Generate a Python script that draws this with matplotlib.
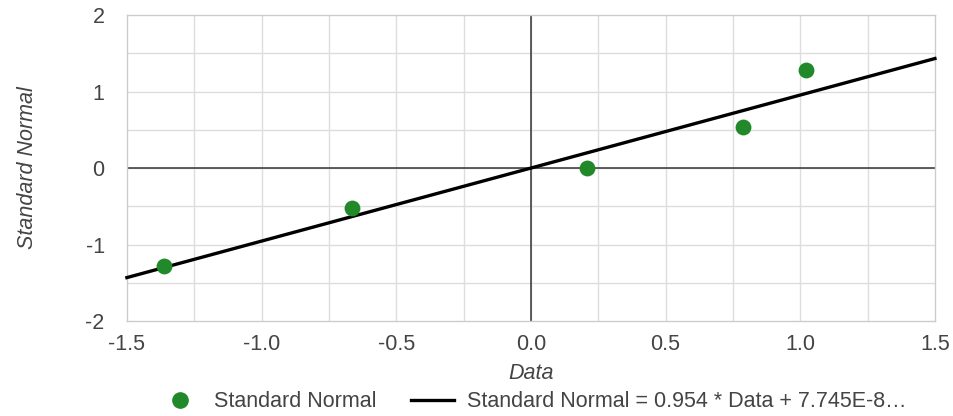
import numpy as np
import matplotlib
matplotlib.use('Agg')
import matplotlib.pyplot as plt
from matplotlib.lines import Line2D

plt.rcParams['font.family'] = ['Liberation Sans', 'DejaVu Sans']
plt.rcParams['axes.unicode_minus'] = False

# ---------- data ----------
data_x = [-1.363, -0.665, 0.208, 0.787, 1.022]
std_normal = [-1.28, -0.52, 0.0, 0.53, 1.28]
slope = 0.954
intercept = 7.745e-8
x_ticks = [-1.5, -1.0, -0.5, 0.0, 0.5, 1.0, 1.5]
y_ticks = [-2, -1, 0, 1, 2]
fit_label = 'Standard Normal = 0.954 * Data + 7.745E-8\u2026'

green = '#22892a'
txt = '#444444'

fig = plt.figure(figsize=(9.54, 4.16), dpi=100)
ax = fig.add_axes([0.133, 0.228, 0.847, 0.736])

ax.set_xlim(-1.5, 1.5)
ax.set_ylim(-2, 2)

# grid: every 0.25 in x, every 0.5 in y
for gx in np.arange(-1.25, 1.5, 0.25):
    ax.axvline(gx, color='#dddddd', lw=1.0, zorder=0)
for gy in np.arange(-1.5, 2.0, 0.5):
    ax.axhline(gy, color='#dddddd', lw=1.0, zorder=0)
ax.axhline(0, color='#333333', lw=1.1, zorder=1)
ax.axvline(0, color='#333333', lw=1.1, zorder=1)

for s in ax.spines.values():
    s.set_color('#cccccc')
    s.set_linewidth(1.0)

xl = np.array([-1.5, 1.5])
ax.plot(xl, slope * xl + intercept, color='black', lw=2.4, zorder=3, clip_on=False)
ax.scatter(data_x, std_normal, s=130, color=green, zorder=4, linewidths=0)

ax.set_xticks(x_ticks)
ax.set_xticklabels(['%.1f' % v for v in x_ticks])
ax.set_yticks(y_ticks)
ax.tick_params(length=0, labelsize=15.5, labelcolor=txt)
ax.tick_params(axis='y', pad=16)
ax.tick_params(axis='x', pad=9)

ax.set_xlabel('Data', fontsize=15.5, style='italic', color=txt, labelpad=6)
ax.set_ylabel('Standard Normal', fontsize=15.5, style='italic', color=txt, labelpad=34)

handles = [Line2D([], [], marker='o', ls='none', color=green, markersize=11),
           Line2D([], [], color='black', lw=2.4)]
fig.legend(handles, ['Standard Normal', fit_label], loc='lower center',
           bbox_to_anchor=(0.558, -0.038), ncol=2, frameon=False, fontsize=15.5,
           labelcolor=txt, handlelength=2.0, handletextpad=0.6, columnspacing=1.6)

fig.savefig('out.png', dpi=100)
